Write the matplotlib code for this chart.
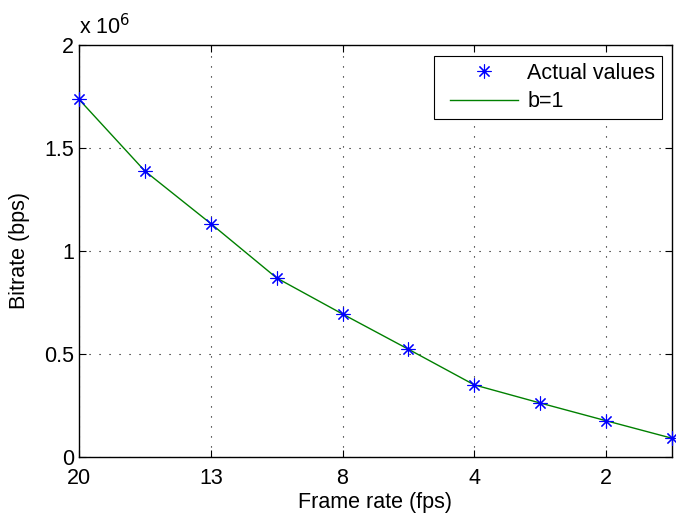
import matplotlib
matplotlib.use("Agg")
import matplotlib.pyplot as plt
from matplotlib.ticker import FuncFormatter
from matplotlib.legend_handler import HandlerLine2D

plt.rcParams['font.family'] = ['Liberation Sans', 'DejaVu Sans']

# data
frame_idx = [1, 2, 3, 4, 5, 6, 7, 8, 9, 10]
bitrate = [1.736e6, 1.388e6, 1.133e6, 0.869e6, 0.694e6,
           0.523e6, 0.350e6, 0.262e6, 0.176e6, 0.091e6]
tick_pos = [1, 3, 5, 7, 9]
tick_labels = ['20', '13', '8', '4', '2']
y_ticks = [0, 0.5e6, 1e6, 1.5e6, 2e6]

FS = 15.5


class ShiftedHandler(HandlerLine2D):
    # matlab legends leave some extra room left of the sample line
    def create_artists(self, legend, orig_handle, xdescent, ydescent,
                       width, height, fontsize, trans):
        off = 0.45 * fontsize
        return super().create_artists(legend, orig_handle, xdescent - off,
                                      ydescent, width - off, height,
                                      fontsize, trans)


fig = plt.figure(figsize=(6.76, 5.13), dpi=100)
ax = fig.add_axes([0.1169, 0.1092, 0.8771, 0.8031])

pts, = ax.plot(frame_idx, bitrate, linestyle='none', marker=(8, 2, 0),
               color='blue', markersize=10, markeredgewidth=0.8,
               label='Actual values', clip_on=False, zorder=3)
ln, = ax.plot(frame_idx, bitrate, '-', color=(0, 0.5, 0), linewidth=1.0,
              label='b=1', zorder=2)

ax.set_xlim(1, 10)
ax.set_ylim(0, 2e6)
ax.set_xticks(tick_pos)
ax.set_xticklabels(tick_labels)
ax.set_yticks(y_ticks)
ax.yaxis.set_major_formatter(FuncFormatter(lambda v, p: '%g' % (v / 1e6)))

ax.grid(True, linestyle=(0, (1, 8)), color='black', linewidth=0.8)
ax.tick_params(direction='in', top=True, right=True, labelsize=FS,
               length=5, width=0.8)
ax.tick_params(axis='x', pad=8)
for s in ax.spines.values():
    s.set_linewidth(1.0)

ax.set_xlabel('Frame rate (fps)', fontsize=FS, labelpad=2)
ax.set_ylabel('Bitrate (bps)', fontsize=FS, labelpad=10)
ax.text(0.0, 1.015, r'x 10$^{6}$', transform=ax.transAxes, fontsize=FS,
        ha='left', va='bottom')

leg = ax.legend(handles=[pts, ln], loc='upper right',
                bbox_to_anchor=(0.983, 0.973),
                fontsize=FS, fancybox=False, framealpha=1,
                edgecolor='black', borderpad=0.3, handlelength=3.6,
                handletextpad=0.45, labelspacing=0.35, borderaxespad=0,
                handler_map={pts: ShiftedHandler(), ln: ShiftedHandler()})
leg.get_frame().set_linewidth(0.8)

fig.savefig('out.png', dpi=100)
